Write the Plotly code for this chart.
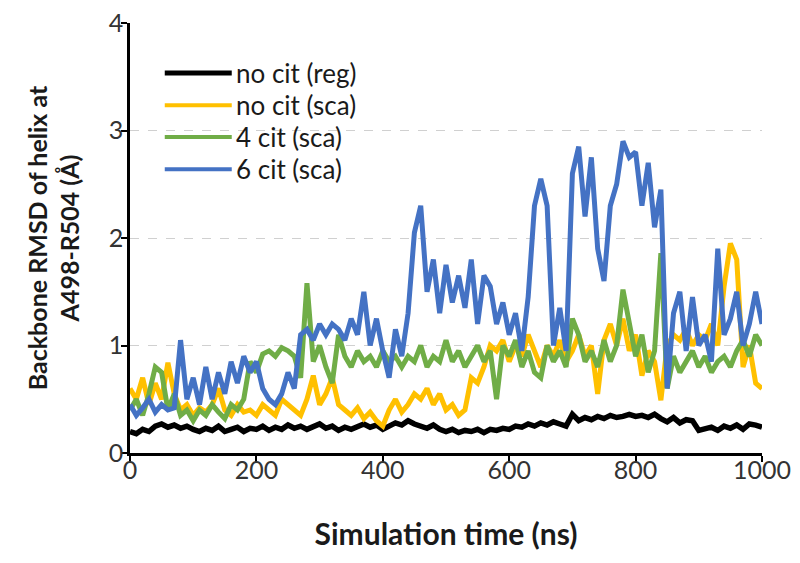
import plotly.graph_objects as go

time_ns = list(range(0, 1001, 10))

names = ["no cit (reg)", "no cit (sca)", "4 cit (sca)", "6 cit (sca)"]
colors = ["#000000", "#FFC000", "#70AD47", "#4472C4"]

no_cit_reg = [0.2, 0.18, 0.22, 0.2, 0.25, 0.27, 0.24, 0.26, 0.23, 0.25,
              0.22, 0.2, 0.23, 0.21, 0.25, 0.2, 0.22, 0.24, 0.2, 0.23,
              0.22, 0.25, 0.21, 0.24, 0.22, 0.26, 0.23, 0.25, 0.22, 0.24,
              0.27, 0.23, 0.25, 0.21, 0.24, 0.22, 0.25, 0.27, 0.24, 0.26,
              0.22, 0.25, 0.28, 0.26, 0.3, 0.27, 0.25, 0.23, 0.26, 0.22,
              0.2, 0.22, 0.19, 0.21, 0.2, 0.22, 0.19, 0.22, 0.21, 0.23,
              0.22, 0.25, 0.24, 0.27, 0.25, 0.28, 0.26, 0.29, 0.27, 0.25,
              0.36, 0.3, 0.33, 0.31, 0.34, 0.32, 0.35, 0.33, 0.34, 0.36,
              0.34, 0.35, 0.33, 0.36, 0.32, 0.29, 0.33, 0.28, 0.31, 0.3,
              0.21, 0.22, 0.24, 0.21, 0.25, 0.23, 0.26, 0.22, 0.27, 0.26,
              0.24]

no_cit_sca = [0.6, 0.5, 0.7, 0.45, 0.65, 0.5, 0.84, 0.55, 0.4, 0.45,
              0.35, 0.42, 0.38, 0.45, 0.6, 0.4, 0.35, 0.45, 0.38, 0.4,
              0.35, 0.45, 0.4, 0.35, 0.5, 0.45, 0.4, 0.35, 0.5, 0.72,
              0.45, 0.55, 0.7, 0.45, 0.4, 0.35, 0.42, 0.32, 0.38, 0.3,
              0.25, 0.4, 0.5, 0.38, 0.45, 0.55, 0.5, 0.6, 0.45, 0.55,
              0.4, 0.45, 0.35, 0.4, 0.7, 0.65, 0.8, 1.0, 0.95, 1.05,
              0.85, 1.0, 0.9, 1.1, 0.95, 0.8, 1.0, 0.9, 1.05, 0.85,
              0.95, 1.1, 0.9, 1.0, 0.55, 1.05, 1.2, 1.0, 1.25, 0.95,
              1.1, 0.72, 0.95, 0.85, 0.49, 1.0, 1.1, 1.05, 1.15, 1.0,
              1.1, 1.05, 1.2, 1.0, 1.55, 1.95, 1.8, 0.8, 1.0, 0.65,
              0.6]

cit4_sca = [0.4, 0.5, 0.35, 0.55, 0.8, 0.75, 0.4, 0.55, 0.35, 0.4,
            0.3, 0.4, 0.35, 0.45, 0.38, 0.32, 0.45, 0.4, 0.5, 0.85,
            0.75, 0.92, 0.95, 0.9, 0.98, 0.95, 0.9, 0.7, 1.58, 0.85,
            1.0, 0.8, 0.65, 1.1, 0.9, 0.8, 0.95, 0.85, 0.9, 0.8,
            0.95, 0.85, 0.9, 0.8, 0.9, 0.85, 1.0, 0.8, 0.9, 0.85,
            1.05, 0.85, 0.95, 0.8, 0.9, 1.0, 0.85, 0.95, 0.5, 1.0,
            0.9, 1.05, 0.8, 0.95, 0.75, 0.7, 1.0, 0.85, 0.95, 0.8,
            1.25, 1.1, 0.85, 0.95, 0.8, 1.05, 0.85, 1.0, 1.52, 1.2,
            0.9, 1.1, 0.75, 0.95, 1.86, 0.6, 0.9, 0.75, 0.85, 0.95,
            0.8, 0.9, 0.75, 0.85, 0.9, 0.8, 0.95, 1.05, 0.9, 1.1,
            1.0]

cit6_sca = [0.45, 0.35, 0.42, 0.5, 0.38, 0.45, 0.4, 0.42, 1.05, 0.5,
            0.7, 0.45, 0.8, 0.5, 0.75, 0.55, 0.85, 0.65, 0.9, 0.75,
            0.85, 0.6, 0.5, 0.45, 0.55, 0.75, 0.6, 1.1, 1.15, 1.05,
            1.2, 1.1, 1.2, 1.15, 1.05, 1.25, 1.1, 1.5, 1.0, 1.25,
            0.95, 0.7, 1.15, 0.9, 1.3, 2.05, 2.3, 1.5, 1.8, 1.3,
            1.75, 1.4, 1.65, 1.35, 1.8, 1.2, 1.65, 1.55, 1.2, 1.4,
            1.1, 1.3, 0.95, 1.45, 2.3, 2.55, 2.3, 1.0, 1.35, 0.95,
            2.6, 2.85, 2.2, 2.75, 1.9, 1.6, 2.3, 2.5, 2.9, 2.75,
            2.8, 2.3, 2.7, 2.1, 2.45, 0.6, 1.3, 1.5, 0.95, 1.45,
            1.0, 1.1, 0.85, 1.9, 1.1, 1.25, 1.5, 1.0, 1.2, 1.5,
            1.2]

series = [no_cit_reg, no_cit_sca, cit4_sca, cit6_sca]
line_widths = [5.5, 5, 5, 5]

x_ticks = [0, 200, 400, 600, 800, 1000]
y_ticks = [0, 1, 2, 3, 4]

fig = go.Figure()
for name, col, vals, lw in zip(names, colors, series, line_widths):
    fig.add_trace(go.Scatter(x=time_ns, y=vals, mode="lines", name=name,
                             line=dict(color=col, width=lw), showlegend=False))

# manual legend (long line samples like the reference)
leg_y = [0.884, 0.809, 0.735, 0.660]
for i, (name, col) in enumerate(zip(names, colors)):
    yy = leg_y[i]
    fig.add_shape(type="line", xref="paper", yref="paper",
                  x0=0.055, x1=0.161, y0=yy, y1=yy,
                  line=dict(color=col, width=5 if i == 0 else 4))
    fig.add_annotation(xref="paper", yref="paper", x=0.165, y=yy,
                       text=name, showarrow=False, xanchor="left",
                       yanchor="middle",
                       font=dict(family="Lato", size=26, color="#1a1a1a"))

fig.update_layout(
    width=800, height=563,
    margin=dict(l=122, r=46, t=15, b=118, autoexpand=False),
    plot_bgcolor="white", paper_bgcolor="white",
    font=dict(family="Lato", color="#262626"),
    xaxis=dict(range=[0, 1000], tickvals=x_ticks, ticks="outside",
               ticklen=6, tickwidth=2, tickcolor="black",
               showline=True, linecolor="black", linewidth=2.5,
               showgrid=False, zeroline=False, ticklabelstandoff=-13,
               ticklabeloverflow="allow", automargin=False,
               tickfont=dict(family="Lato", size=25, color="#333333"),
               title=dict(text="<b>Simulation time (ns)</b>", standoff=42,
                          font=dict(family="Lato", size=30, color="#1a1a1a"))),
    yaxis=dict(range=[0, 4], tickvals=y_ticks, ticks="outside",
               ticklen=6, tickwidth=2, tickcolor="black",
               showline=True, linecolor="black", linewidth=2.5,
               showgrid=True, gridcolor="#D0D0D0", griddash="dash",
               gridwidth=1, zeroline=False, ticklabelstandoff=-7,
               ticklabeloverflow="allow", automargin=False,
               tickfont=dict(family="Lato", size=25, color="#333333"),
               title=dict(text="<b>Backbone RMSD of helix at<br>A498-R504 (Å)</b>",
                          standoff=22,
                          font=dict(family="Lato", size=25, color="#1a1a1a"))),
)

fig.write_html("out.html")
